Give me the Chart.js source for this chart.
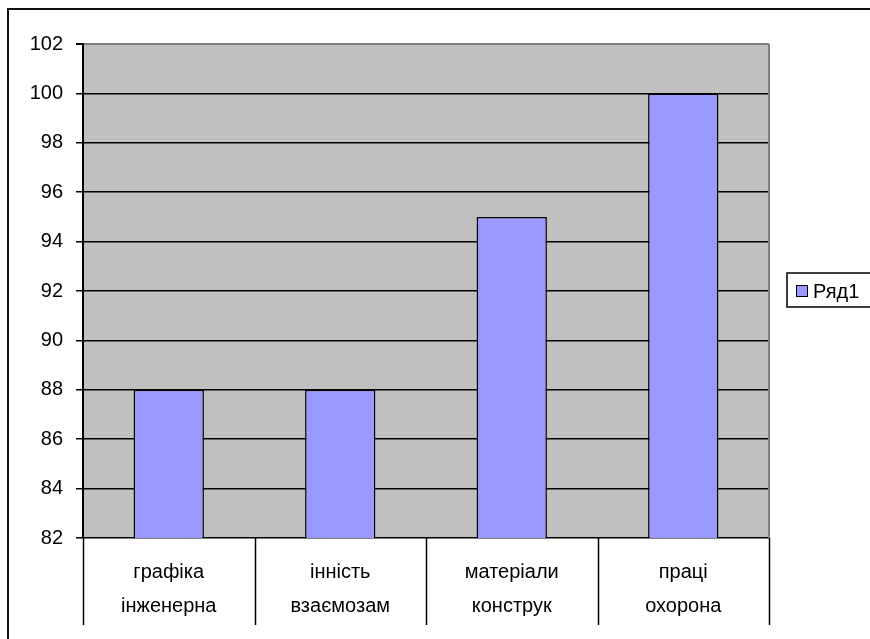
<!DOCTYPE html>
<html>
<head>
<meta charset="utf-8">
<script src="https://cdn.jsdelivr.net/npm/chart.js@4/dist/chart.umd.min.js"></script>
<style>
  html, body { margin: 0; padding: 0; background: #fff; }
  #wrap { width: 870px; height: 639px; }
</style>
</head>
<body>
<div id="wrap"><canvas id="barCanvas" width="870" height="639"></canvas></div>
<script>
// data
const categories = [
  ['графіка', 'інженерна'],
  ['інність', 'взаємозам'],
  ['матеріали', 'конструк'],
  ['праці', 'охорона']
];
const seriesName = 'Ряд1';
const seriesValues = [88, 88, 95, 100];
const yMin = 82;
const yMax = 102;
const yStep = 2;

const barColor = '#9999FF';
const plotGray = '#C0C0C0';
const fontFamily = 'Arial, "Liberation Sans", sans-serif';

// grey plot background, category dividers, outer frame and legend box
let excelLook = {
  id: 'excelLook',
  beforeDraw: function (chart) {
    let a = chart.chartArea;
    let ctx = chart.ctx;
    ctx.save();
    ctx.fillStyle = '#fff';
    ctx.fillRect(0, 0, chart.width, chart.height);
    ctx.fillStyle = plotGray;
    ctx.fillRect(a.left, a.top, a.right - a.left, a.bottom - a.top);
    ctx.restore();
  },
  afterDraw: function (chart) {
    let a = chart.chartArea;
    let ctx = chart.ctx;
    let xs = chart.scales.x;
    let n = categories.length;
    ctx.save();

    // right edge of plot area
    ctx.strokeStyle = '#808080';
    ctx.lineWidth = 2;
    ctx.beginPath();
    ctx.moveTo(a.right, a.top);
    ctx.lineTo(a.right, a.bottom);
    ctx.stroke();

    // dividers between category labels
    ctx.strokeStyle = '#000';
    ctx.lineWidth = 1.5;
    for (let i = 0; i <= n; i++) {
      let x = Math.round(xs.left + i * (xs.width / n)) + 0.5;
      ctx.beginPath();
      ctx.moveTo(x, a.bottom);
      ctx.lineTo(x, a.bottom + 87);
      ctx.stroke();
    }

    // outer frame
    ctx.lineWidth = 2;
    ctx.strokeStyle = '#111';
    ctx.beginPath();
    ctx.moveTo(8, chart.height + 5);
    ctx.lineTo(8, 9);
    ctx.lineTo(chart.width + 5, 9);
    ctx.stroke();

    // legend
    ctx.lineWidth = 1.5;
    ctx.strokeStyle = '#000';
    ctx.fillStyle = '#fff';
    ctx.fillRect(787, 273, 100, 34);
    ctx.strokeRect(787, 273, 100, 34);
    ctx.fillStyle = barColor;
    ctx.fillRect(796.5, 285.5, 11, 11);
    ctx.lineWidth = 1;
    ctx.strokeRect(796.5, 285.5, 11, 11);
    ctx.fillStyle = '#000';
    ctx.font = '20px ' + fontFamily;
    ctx.textBaseline = 'alphabetic';
    ctx.textAlign = 'left';
    ctx.fillText(seriesName, 813, 298);

    ctx.restore();
  }
};

let ctx = document.getElementById('barCanvas').getContext('2d');

window.barChart = new Chart(ctx, {
  type: 'bar',
  data: {
    labels: categories,
    datasets: [{
      label: seriesName,
      data: seriesValues,
      backgroundColor: barColor,
      borderColor: '#000',
      borderWidth: 1.5,
      borderSkipped: 'bottom',
      barPercentage: 0.41,
      categoryPercentage: 1.0
    }]
  },
  options: {
    responsive: false,
    animation: false,
    devicePixelRatio: 1,
    layout: {
      padding: { top: 44, right: 101, bottom: 0, left: 0 }
    },
    plugins: {
      legend: { display: false },
      tooltip: { enabled: false }
    },
    scales: {
      x: {
        grid: { display: false },
        border: { display: false },
        ticks: {
          color: '#000',
          padding: 9,
          maxRotation: 0,
          autoSkip: false,
          font: { family: fontFamily, size: 20, lineHeight: 1.7 }
        },
        afterFit: function (scale) { scale.height = 101; }
      },
      y: {
        min: yMin,
        max: yMax,
        border: { display: true, color: '#000', width: 2 },
        grid: {
          color: function (c) { return c.tick && c.tick.value === yMax ? '#808080' : '#000'; },
          lineWidth: function (c) { return c.tick && c.tick.value === yMax ? 2 : 1.5; },
          tickColor: '#000',
          tickLength: 7
        },
        ticks: {
          stepSize: yStep,
          color: '#000',
          padding: 13,
          font: { family: fontFamily, size: 20 }
        },
        afterFit: function (scale) { scale.width = 83; }
      }
    }
  },
  plugins: [excelLook]
});
</script>
</body>
</html>
